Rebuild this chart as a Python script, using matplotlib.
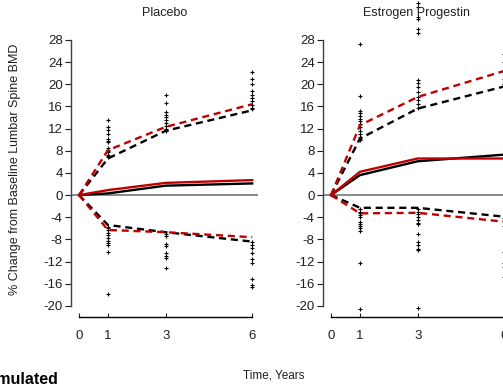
import matplotlib
matplotlib.use("Agg")
import matplotlib.pyplot as plt

plt.rcParams['font.family'] = ['Liberation Sans', 'DejaVu Sans']
plt.rcParams['axes.unicode_minus'] = False

years = [0, 1, 3, 6]
x_ticks = [0, 1, 3, 6]
y_ticks = list(range(-20, 29, 4))
panel_titles = ["Placebo", "Estrogen Progestin"]

# Placebo: observed (black) and simulated (red) median and percentile lines
pl_obs_median = [0, 0.3, 1.7, 2.1]
pl_sim_median = [0, 0.9, 2.2, 2.7]
pl_obs_upper = [0, 6.6, 11.6, 15.3]
pl_sim_upper = [0, 8.1, 12.3, 16.4]
pl_obs_lower = [0, -5.4, -6.7, -8.4]
pl_sim_lower = [0, -6.3, -6.7, -7.6]
pl_points = {
    1: [13.5, 12.2, 11.8, 11.0, 10.2, 9.8, 9.5, 8.5, 8.2, 8.0, 7.8, 7.2, 7.0, 6.8,
        -5.7, -6.0, -6.3, -6.8, -7.2, -7.8, -8.2, -8.6, -9.0, -10.2, -17.9],
    3: [18.0, 16.7, 15.0, 14.5, 14.0, 13.5, 13.0, 12.5, 12.0, 11.8, 11.5,
        -7.0, -7.4, -8.8, -9.2, -10.5, -11.0, -11.3, -13.1],
    6: [22.2, 21.0, 20.0, 18.8, 18.0, 17.5, 17.0, 16.2, 15.8, 15.5,
        -8.4, -9.0, -9.5, -10.5, -11.5, -12.2, -15.2, -16.2, -16.5],
}

# Estrogen Progestin
ep_obs_median = [0, 3.6, 6.1, 7.3]
ep_sim_median = [0, 4.2, 6.6, 6.6]
ep_obs_upper = [0, 10.2, 15.6, 19.6]
ep_sim_upper = [0, 12.6, 17.7, 22.4]
ep_obs_lower = [0, -2.3, -2.3, -3.9]
ep_sim_lower = [0, -3.3, -3.2, -4.8]
ep_points = {
    1: [27.2, 17.8, 15.2, 14.8, 14.2, 13.8, 13.3, 12.8, 12.3, 11.5, 11.0, 10.5, 10.2, 10.0,
        -2.5, -3.0, -3.3, -3.6, -4.0, -4.8, -5.2, -5.5, -6.0, -6.5, -12.2, -20.6],
    3: [34.6, 34.0, 32.1, 31.7, 29.9, 29.3, 20.8, 20.3, 19.5, 18.6, 17.7, 17.1, 16.5, 15.8,
        -2.5, -3.0, -3.5, -4.0, -4.5, -5.0, -5.3, -7.0, -8.5, -9.0, -9.8, -10.0, -20.3],
    6: [25.5, 24.0, 22.2, 21.0, 20.0,
        -4.2, -5.5, -10.3, -12.3, -13.0, -14.8],
}

panels = [
    (pl_obs_median, pl_sim_median, pl_obs_upper, pl_sim_upper, pl_obs_lower, pl_sim_lower, pl_points),
    (ep_obs_median, ep_sim_median, ep_obs_upper, ep_sim_upper, ep_obs_lower, ep_sim_lower, ep_points),
]

W, H = 503, 386
fig = plt.figure(figsize=(W / 100, H / 100), dpi=100)
RED = "#c00000"

lefts = [71, 323]
for i, (left, data) in enumerate(zip(lefts, panels)):
    om, sm, ou, su, ol, sl, pts = data
    ax = fig.add_axes([left / W, 69 / H, 187 / W, 317 / H])
    ax.set_xlim(-0.28, 6.2)
    ax.set_ylim(-22, 35.2)
    ax.patch.set_alpha(0)
    ax.axhline(0, color="#808080", lw=1.3, zorder=1)
    for xv, vals in pts.items():
        ax.plot([xv] * len(vals), vals, ls="none", marker="+", ms=3.2, mew=0.8,
                color="black", clip_on=False, zorder=2)
    ax.plot(years, om, color="black", lw=1.7, zorder=3, clip_on=False)
    ax.plot(years, sm, color=RED, lw=1.7, zorder=4, clip_on=False)
    for series, col, z in [(ou, "black", 3), (ol, "black", 3), (su, RED, 4), (sl, RED, 4)]:
        ax.plot(years, series, color=col, lw=1.7, ls=(0, (3, 2)), zorder=z, clip_on=False)
    for s in ["top", "right"]:
        ax.spines[s].set_visible(False)
    ax.spines["left"].set_bounds(-20, 28)
    ax.spines["left"].set_color("#404040")
    ax.spines["left"].set_linewidth(1.0)
    ax.spines["bottom"].set_bounds(0, 6)
    ax.spines["bottom"].set_linewidth(1.0)
    ax.set_yticks(y_ticks)
    ax.set_yticklabels([str(v) for v in y_ticks])
    ax.set_xticks(x_ticks)
    ax.set_xticklabels([str(v) for v in x_ticks])
    ax.tick_params(axis="y", direction="out", length=4, width=0.8, pad=2,
                   labelsize=9.5, colors="#202020")
    ax.tick_params(axis="x", direction="in", length=3, width=0.8, pad=9.5,
                   labelsize=9.5, colors="#202020")
    fig.text((left + 93.5) / W, 1 - 13 / H, panel_titles[i], ha="center", va="center",
             fontsize=9, color="#202020")

fig.text(15 / W, 1 - 169 / H, "% Change from Baseline Lumbar Spine BMD", rotation=90,
         ha="center", va="center", fontsize=9, color="#202020")
fig.text(274 / W, 1 - 376 / H, "Time, Years", ha="center", va="center",
         fontsize=8.5, color="#202020")
fig.text(58 / W, 1 - 379 / H, "Simulated", ha="right", va="center",
         fontsize=11.5, fontweight="bold", color="black")

fig.savefig("out.png", dpi=100)
